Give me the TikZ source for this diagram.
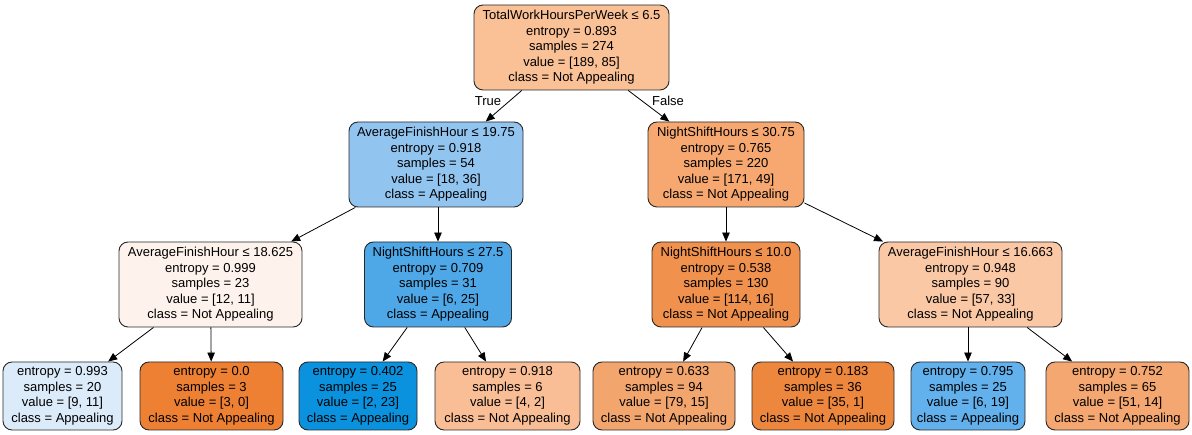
\documentclass[tikz,border=0pt]{standalone}
\usepackage{fontspec}
\setmainfont{Liberation Sans}
\usetikzlibrary{arrows.meta}
\definecolor{cRoot}{RGB}{250,192,150}
\definecolor{cLL}{RGB}{146,196,240}
\definecolor{cLR}{RGB}{246,168,112}
\definecolor{cA}{RGB}{253,243,236}
\definecolor{cB}{RGB}{78,167,230}
\definecolor{cC}{RGB}{240,145,78}
\definecolor{cD}{RGB}{250,200,165}
\definecolor{cF1}{RGB}{220,235,250}
\definecolor{cF2}{RGB}{238,128,52}
\definecolor{cF3}{RGB}{10,146,222}
\definecolor{cF4}{RGB}{250,190,150}
\definecolor{cF5}{RGB}{243,165,110}
\definecolor{cF6}{RGB}{238,135,62}
\definecolor{cF7}{RGB}{98,176,236}
\definecolor{cF8}{RGB}{244,167,112}
\definecolor{edgegray}{RGB}{40,40,40}
\tikzset{
  tnode/.style={draw=edgegray, line width=0.9pt, rounded corners=9pt, align=center,
    inner sep=0pt, font=\fontsize{13}{15.5}\selectfont, text=black},
  inner/.style={tnode, minimum height=85pt},
  leaf/.style={tnode, minimum height=68pt},
  edge/.style={draw=black, line width=0.8pt, -{Triangle[length=9pt,width=7.5pt]}},
  elabel/.style={font=\fontsize{13}{15.5}\selectfont}
}
\begin{document}
\begin{tikzpicture}[x=1pt,y=-1pt]
\useasboundingbox (0,0) rectangle (1192,435);
% level 0
\node[inner, fill=cRoot, minimum width=195pt] (root) at (571.5,47.5)
  {TotalWorkHoursPerWeek ≤ 6.5\\entropy = 0.893\\samples = 274\\value = [189, 85]\\class = Not Appealing};
% level 1
\node[inner, fill=cLL, minimum width=174pt] (l1) at (436,164.5)
  {AverageFinishHour ≤ 19.75\\entropy = 0.918\\samples = 54\\value = [18, 36]\\class = Appealing};
\node[inner, fill=cLR, minimum width=156pt] (r1) at (726,164.5)
  {NightShiftHours ≤ 30.75\\entropy = 0.765\\samples = 220\\value = [171, 49]\\class = Not Appealing};
% level 2
\node[inner, fill=cA, minimum width=183pt] (a) at (210.5,284.5)
  {AverageFinishHour ≤ 18.625\\entropy = 0.999\\samples = 23\\value = [12, 11]\\class = Not Appealing};
\node[inner, fill=cB, minimum width=147pt] (b) at (438,284.5)
  {NightShiftHours ≤ 27.5\\entropy = 0.709\\samples = 31\\value = [6, 25]\\class = Appealing};
\node[inner, fill=cC, minimum width=148pt] (c) at (726,284.5)
  {NightShiftHours ≤ 10.0\\entropy = 0.538\\samples = 130\\value = [114, 16]\\class = Not Appealing};
\node[inner, fill=cD, minimum width=183pt] (d) at (970.5,284.5)
  {AverageFinishHour ≤ 16.663\\entropy = 0.948\\samples = 90\\value = [57, 33]\\class = Not Appealing};
% level 3
\node[leaf, fill=cF1, minimum width=119pt] (f1) at (62.5,396)
  {entropy = 0.993\\samples = 20\\value = [9, 11]\\class = Appealing};
\node[leaf, fill=cF2, minimum width=143pt] (f2) at (211.5,396)
  {entropy = 0.0\\samples = 3\\value = [3, 0]\\class = Not Appealing};
\node[leaf, fill=cF3, minimum width=118pt] (f3) at (358,396)
  {entropy = 0.402\\samples = 25\\value = [2, 23]\\class = Appealing};
\node[leaf, fill=cF4, minimum width=145pt] (f4) at (507.5,396)
  {entropy = 0.918\\samples = 6\\value = [4, 2]\\class = Not Appealing};
\node[leaf, fill=cF5, minimum width=142pt] (f5) at (664,396)
  {entropy = 0.633\\samples = 94\\value = [79, 15]\\class = Not Appealing};
\node[leaf, fill=cF6, minimum width=142pt] (f6) at (823,396)
  {entropy = 0.183\\samples = 36\\value = [35, 1]\\class = Not Appealing};
\node[leaf, fill=cF7, minimum width=114pt] (f7) at (968,396)
  {entropy = 0.795\\samples = 25\\value = [6, 19]\\class = Appealing};
\node[leaf, fill=cF8, minimum width=143pt] (f8) at (1117.5,396)
  {entropy = 0.752\\samples = 65\\value = [51, 14]\\class = Not Appealing};
% edges
\draw[edge] (root) -- (l1);
\draw[edge] (root) -- (r1);
\draw[edge] (l1) -- (a);
\draw[edge] (l1.south -| b) -- (b);
\draw[edge] (r1) -- (c);
\draw[edge] (r1) -- (d);
\draw[edge] (a) -- (f1);
\draw[edge] (a) -- (f2);
\draw[edge] (b) -- (f3);
\draw[edge] (b) -- (f4);
\draw[edge] (c) -- (f5);
\draw[edge] (c) -- (f6);
\draw[edge] (d.south -| f7) -- (f7);
\draw[edge] (d) -- (f8);
% edge labels
\node[elabel] (tl) at (488,101) {True};
\node[elabel] (fl) at (668,101) {False};
\end{tikzpicture}
\end{document}
